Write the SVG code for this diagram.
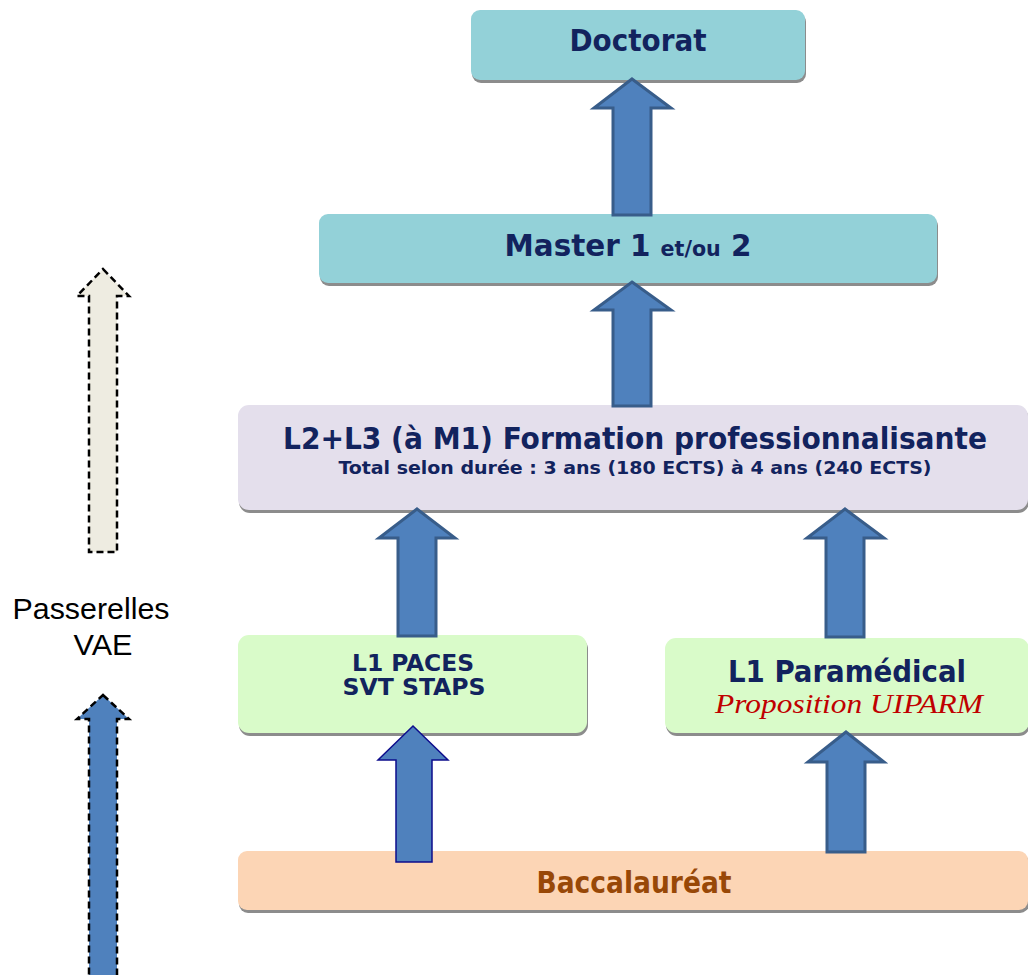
<svg xmlns="http://www.w3.org/2000/svg" width="1028" height="975" viewBox="0 0 1028 975">
<style>
.sh{fill:#8c8c8c}
.t{font-family:"DejaVu Sans Condensed","DejaVu Sans",sans-serif;font-stretch:condensed;font-weight:bold;fill:#12235e;text-anchor:middle}
.arr{fill:#4f81bd;stroke:#385d8a;stroke-width:3;stroke-linejoin:miter}
.arrb{fill:#4f81bd;stroke:#0d0d8c;stroke-width:1.5}
.dash{stroke:#000;stroke-width:2.5;stroke-dasharray:7,4}
.pv{font-family:"Liberation Sans",Arial,sans-serif;font-size:29px;fill:#000;text-anchor:middle}
</style>
<rect width="1028" height="975" fill="#fff"/>
<g id="doctorat">
<rect class="sh" x="472" y="13" width="334" height="70" rx="9"/>
<rect x="471" y="10" width="334" height="70" rx="9" fill="#93d1d8"/>
<text class="t" x="638" y="51" font-size="30" textLength="137" lengthAdjust="spacingAndGlyphs">Doctorat</text>
</g>
<g id="master">
<rect class="sh" x="320" y="217" width="618" height="69" rx="9"/>
<rect x="319" y="214" width="618" height="69" rx="9" fill="#93d1d8"/>
<text class="t" x="628" y="256" font-size="30" textLength="247" lengthAdjust="spacingAndGlyphs">Master 1 <tspan font-size="21">et/ou</tspan> 2</text>
</g>
<g id="l2l3">
<rect class="sh" x="239" y="408" width="790" height="105" rx="11"/>
<rect x="238" y="405" width="790" height="105" rx="11" fill="#e4dfec"/>
<text class="t" x="635" y="449" font-size="30" textLength="704" lengthAdjust="spacingAndGlyphs">L2+L3 (à M1) Formation professionnalisante</text>
<text class="t" x="635" y="474" font-size="17" textLength="593" lengthAdjust="spacingAndGlyphs">Total selon durée  : 3 ans (180 ECTS) à 4 ans (240 ECTS)</text>
</g>
<g id="l1paces">
<rect class="sh" x="239" y="638" width="349" height="98" rx="11"/>
<rect x="238" y="635" width="349" height="98" rx="11" fill="#d9fbc9"/>
<text class="t" x="413" y="671" font-size="23" textLength="122" lengthAdjust="spacingAndGlyphs">L1 PACES</text>
<text class="t" x="414" y="695" font-size="23" textLength="143" lengthAdjust="spacingAndGlyphs">SVT STAPS</text>
</g>
<g id="l1para">
<rect class="sh" x="666" y="641" width="364" height="95" rx="11"/>
<rect x="665" y="638" width="364" height="95" rx="11" fill="#d9fbc9"/>
<text class="t" x="847" y="682" font-size="30" textLength="238" lengthAdjust="spacingAndGlyphs">L1 Paramédical</text>
<text x="849" y="713" font-family="'Liberation Serif',serif" font-style="italic" font-size="27" fill="#c00000" text-anchor="middle" textLength="268" lengthAdjust="spacingAndGlyphs">Proposition  UIPARM</text>
</g>
<g id="bac">
<rect class="sh" x="239" y="854" width="790" height="59" rx="9"/>
<rect x="238" y="851" width="790" height="59" rx="9" fill="#fcd5b5"/>
<text class="t" x="634" y="893" font-size="30" style="fill:#984807" textLength="195" lengthAdjust="spacingAndGlyphs">Baccalauréat</text>
</g>
<g id="passerelles">
<text class="pv" x="91" y="619" textLength="157" lengthAdjust="spacingAndGlyphs">Passerelles</text>
<text class="pv" x="103" y="655" textLength="59" lengthAdjust="spacingAndGlyphs">VAE</text>
</g>
<g id="connectors">
<polygon class="arr" points="632,79 671,108 651,108 651,215 613,215 613,108 594,108"/>
<polygon class="arr" points="632,282 671,310 651,310 651,406 613,406 613,310 594,310"/>
<polygon class="arr" points="417,509 455,538 436,538 436,636 398,636 398,538 379,538"/>
<polygon class="arr" points="845,509 884,538 864,538 864,637 826,637 826,538 807,538"/>
<polygon class="arrb" points="413,726 448,760 432,760 432,862 396,862 396,760 378,760"/>
<polygon class="arr" points="846,732 884,762 865,762 865,852 827,852 827,762 808,762"/>
<polygon class="dash" fill="#eeece1" points="103,269 129,296 117,296 117,552 89,552 89,296 77,296"/>
<polygon class="dash" fill="#4f81bd" points="103,695 129,719 117,719 117,985 89,985 89,719 77,719"/>
</g>
</svg>
